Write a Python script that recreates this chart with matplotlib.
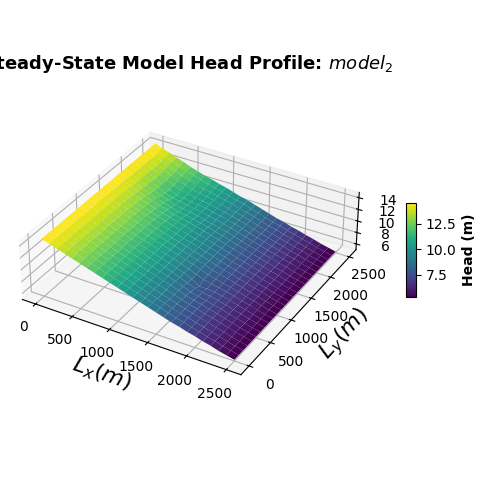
import matplotlib
matplotlib.use("Agg")
import matplotlib.pyplot as plt
import numpy as np

# --- values ---
X_M = [0, 100, 200, 300, 400, 500, 600, 700, 800, 900, 1000, 1100, 1200,
       1300, 1400, 1500, 1600, 1700, 1800, 1900, 2000, 2100, 2200, 2300, 2400, 2500]
Y_M = list(X_M)

# head (m), one row per y value, one column per x value
HEAD = [
    [14.7, 14.3, 13.9, 13.5, 13.1, 12.7, 12.3, 11.9, 11.5, 11.1, 10.7, 10.3, 9.9, 9.5, 9.1, 8.7, 8.3, 7.9, 7.6, 7.2, 6.9, 6.5, 6.2, 5.8, 5.5, 5.2],
    [14.7, 14.3, 13.9, 13.5, 13.1, 12.7, 12.3, 11.9, 11.5, 11.1, 10.7, 10.3, 9.9, 9.5, 9.1, 8.7, 8.3, 7.9, 7.6, 7.2, 6.9, 6.5, 6.2, 5.8, 5.5, 5.2],
    [14.7, 14.3, 13.9, 13.5, 13.1, 12.7, 12.3, 11.9, 11.5, 11.1, 10.7, 10.3, 9.9, 9.5, 9.1, 8.7, 8.3, 7.9, 7.6, 7.2, 6.9, 6.5, 6.2, 5.8, 5.5, 5.2],
    [14.7, 14.3, 13.9, 13.5, 13.1, 12.7, 12.3, 11.9, 11.5, 11.1, 10.7, 10.3, 9.9, 9.5, 9.1, 8.7, 8.3, 7.9, 7.6, 7.2, 6.9, 6.5, 6.2, 5.8, 5.5, 5.2],
    [14.7, 14.3, 13.9, 13.5, 13.1, 12.7, 12.3, 11.9, 11.5, 11.1, 10.7, 10.3, 9.9, 9.5, 9.1, 8.7, 8.3, 7.9, 7.6, 7.2, 6.9, 6.5, 6.2, 5.8, 5.5, 5.2],
    [14.7, 14.3, 13.9, 13.5, 13.1, 12.7, 12.3, 11.9, 11.5, 11.1, 10.7, 10.3, 9.9, 9.5, 9.1, 8.7, 8.2, 7.9, 7.6, 7.2, 6.9, 6.5, 6.2, 5.8, 5.5, 5.2],
    [14.7, 14.3, 13.9, 13.5, 13.1, 12.7, 12.3, 11.9, 11.5, 11.1, 10.7, 10.3, 9.9, 9.5, 9.1, 8.6, 8.1, 7.8, 7.5, 7.2, 6.9, 6.5, 6.2, 5.8, 5.5, 5.2],
    [14.7, 14.3, 13.9, 13.5, 13.1, 12.7, 12.3, 11.9, 11.5, 11.1, 10.7, 10.3, 9.9, 9.5, 9.0, 8.5, 8.0, 7.7, 7.5, 7.2, 6.9, 6.5, 6.2, 5.8, 5.5, 5.2],
    [14.7, 14.3, 13.9, 13.5, 13.1, 12.7, 12.3, 11.9, 11.5, 11.1, 10.7, 10.3, 9.9, 9.5, 9.0, 8.4, 7.6, 7.6, 7.5, 7.2, 6.9, 6.5, 6.2, 5.8, 5.5, 5.2],
    [14.7, 14.3, 13.9, 13.5, 13.1, 12.7, 12.3, 11.9, 11.5, 11.1, 10.7, 10.3, 9.9, 9.5, 9.0, 8.5, 8.0, 7.7, 7.5, 7.2, 6.9, 6.5, 6.2, 5.8, 5.5, 5.2],
    [14.7, 14.3, 13.9, 13.5, 13.1, 12.7, 12.3, 11.9, 11.5, 11.1, 10.7, 10.3, 9.9, 9.5, 9.1, 8.6, 8.1, 7.8, 7.5, 7.2, 6.9, 6.5, 6.2, 5.8, 5.5, 5.2],
    [14.7, 14.3, 13.9, 13.5, 13.1, 12.7, 12.3, 11.9, 11.5, 11.1, 10.7, 10.3, 9.9, 9.5, 9.1, 8.7, 8.2, 7.9, 7.6, 7.2, 6.9, 6.5, 6.2, 5.8, 5.5, 5.2],
    [14.7, 14.3, 13.9, 13.5, 13.1, 12.7, 12.2, 11.8, 11.4, 11.0, 10.6, 10.3, 9.9, 9.5, 9.1, 8.7, 8.3, 7.9, 7.6, 7.2, 6.9, 6.5, 6.2, 5.8, 5.5, 5.2],
    [14.7, 14.3, 13.9, 13.4, 13.0, 12.6, 12.2, 11.8, 11.4, 11.0, 10.6, 10.2, 9.9, 9.5, 9.1, 8.7, 8.3, 7.9, 7.6, 7.2, 6.9, 6.5, 6.2, 5.8, 5.5, 5.2],
    [14.7, 14.2, 13.8, 13.4, 12.9, 12.5, 12.1, 11.7, 11.3, 10.9, 10.6, 10.2, 9.8, 9.5, 9.1, 8.7, 8.3, 7.9, 7.6, 7.2, 6.9, 6.5, 6.2, 5.8, 5.5, 5.2],
    [14.7, 14.2, 13.8, 13.3, 12.9, 12.4, 12.0, 11.6, 11.3, 10.9, 10.6, 10.2, 9.8, 9.5, 9.1, 8.7, 8.3, 7.9, 7.6, 7.2, 6.9, 6.5, 6.2, 5.8, 5.5, 5.2],
    [14.7, 14.2, 13.7, 13.2, 12.7, 12.3, 11.9, 11.5, 11.1, 10.8, 10.5, 10.2, 9.8, 9.5, 9.1, 8.7, 8.3, 7.9, 7.6, 7.2, 6.9, 6.5, 6.2, 5.8, 5.5, 5.2],
    [14.7, 14.1, 13.6, 13.1, 12.5, 12.1, 11.7, 11.3, 10.9, 10.7, 10.4, 10.1, 9.8, 9.4, 9.1, 8.7, 8.3, 7.9, 7.6, 7.2, 6.9, 6.5, 6.2, 5.8, 5.5, 5.2],
    [14.7, 14.0, 13.5, 13.0, 12.4, 11.9, 11.5, 11.1, 10.8, 10.6, 10.3, 10.0, 9.7, 9.4, 9.1, 8.7, 8.3, 7.9, 7.6, 7.2, 6.9, 6.5, 6.2, 5.8, 5.5, 5.2],
    [14.7, 14.0, 13.5, 12.9, 12.3, 11.7, 11.2, 11.0, 10.7, 10.5, 10.3, 10.0, 9.7, 9.4, 9.1, 8.7, 8.3, 7.9, 7.6, 7.2, 6.9, 6.5, 6.2, 5.8, 5.5, 5.2],
    [14.7, 14.0, 13.5, 12.8, 12.2, 11.6, 11.0, 10.9, 10.6, 10.5, 10.3, 10.0, 9.7, 9.4, 9.1, 8.7, 8.3, 7.9, 7.6, 7.2, 6.9, 6.5, 6.2, 5.8, 5.5, 5.2],
    [14.7, 14.0, 13.5, 12.9, 12.3, 11.7, 11.2, 11.0, 10.7, 10.5, 10.3, 10.0, 9.7, 9.4, 9.1, 8.7, 8.3, 7.9, 7.6, 7.2, 6.9, 6.5, 6.2, 5.8, 5.5, 5.2],
    [14.7, 14.0, 13.5, 13.0, 12.4, 11.9, 11.5, 11.1, 10.8, 10.6, 10.3, 10.0, 9.7, 9.4, 9.1, 8.7, 8.3, 7.9, 7.6, 7.2, 6.9, 6.5, 6.2, 5.8, 5.5, 5.2],
    [14.7, 14.1, 13.6, 13.1, 12.5, 12.1, 11.7, 11.3, 10.9, 10.7, 10.4, 10.1, 9.8, 9.4, 9.1, 8.7, 8.3, 7.9, 7.6, 7.2, 6.9, 6.5, 6.2, 5.8, 5.5, 5.2],
    [14.7, 14.2, 13.7, 13.2, 12.7, 12.3, 11.9, 11.5, 11.1, 10.8, 10.5, 10.2, 9.8, 9.5, 9.1, 8.7, 8.3, 7.9, 7.6, 7.2, 6.9, 6.5, 6.2, 5.8, 5.5, 5.2],
    [14.7, 14.2, 13.8, 13.3, 12.9, 12.4, 12.0, 11.6, 11.3, 10.9, 10.6, 10.2, 9.8, 9.5, 9.1, 8.7, 8.3, 7.9, 7.6, 7.2, 6.9, 6.5, 6.2, 5.8, 5.5, 5.2],
]

TITLE = r"Steady-State Model Head Profile: $model_2$"
XLABEL = r"$L_x(m)$"
YLABEL = r"$L_y(m)$"
CBAR_LABEL = "Head (m)"

xx, yy = np.meshgrid(X_M, Y_M)
zz = np.array(HEAD)

fig = plt.figure(figsize=(5, 5), dpi=100)
# box is wide and flat in the original, so set it by hand
ax = fig.add_axes([0.036, 0.16, 0.68, 0.68], projection="3d")
ax.set_box_aspect((1, 1, 0.28), zoom=1.015)
surf = ax.plot_surface(xx, yy, zz, cmap="viridis")
ax.view_init(elev=33, azim=-60)

ax.set_title(TITLE, fontsize=13, fontweight="bold", pad=8)
ax.set_xlabel(XLABEL, fontsize=16)
ax.set_ylabel(YLABEL, fontsize=16)

cax = fig.add_axes([0.812, 0.406, 0.02, 0.188])
cbar = fig.colorbar(surf, cax=cax)
cbar.set_label(CBAR_LABEL, fontweight="bold")

fig.savefig("out.png", dpi=100)
